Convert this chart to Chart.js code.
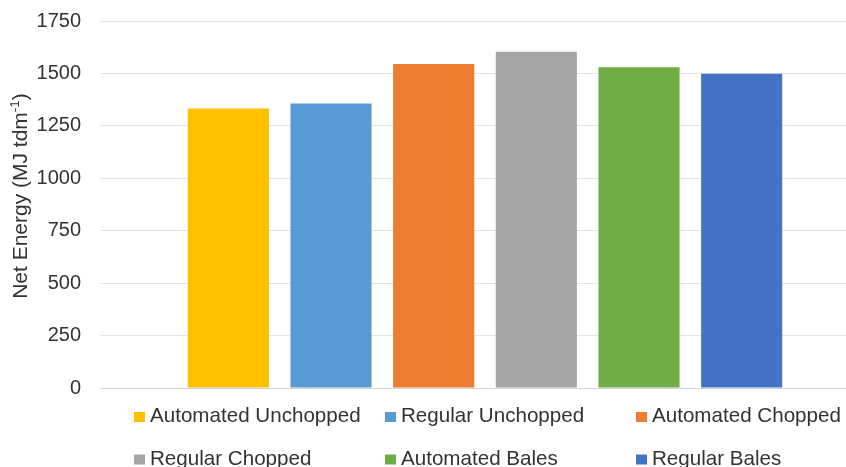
<!DOCTYPE html>
<html>
<head>
<meta charset="utf-8">
<script src="https://cdn.jsdelivr.net/npm/chart.js@4.4.1/dist/chart.umd.min.js"></script>
<style>
  html, body { margin: 0; padding: 0; overflow: hidden; background: #ffffff; }
  #wrap { position: relative; width: 870px; height: 467px; }
</style>
</head>
<body>
<div id="wrap"><canvas id="c"></canvas></div>
<script>
// Net energy per system (MJ per tonne dry matter)
const categories = ['Net Energy'];
const seriesNames = ['Automated Unchopped', 'Regular Unchopped', 'Automated Chopped', 'Regular Chopped', 'Automated Bales', 'Regular Bales'];
const seriesValues = [1333, 1357, 1545, 1603, 1530, 1498];
const seriesColors = ['#FFC000', '#5B9BD5', '#ED7D31', '#A5A5A5', '#70AD47', '#4472C4'];
const yTickValues = [0, 250, 500, 750, 1000, 1250, 1500, 1750];
const yTitleMain = 'Net Energy (MJ tdm';
const yTitleSup = '-1';
const yTitleEnd = ')';

const FONT = '"Liberation Sans", Arial, sans-serif';
const TEXT = '#333333';

// Legend laid out as a 3-column grid under the plot
const gridLegend = {
  id: 'gridLegend',
  afterDraw(chart, args, opts) {
    const ctx = chart.ctx;
    ctx.save();
    ctx.font = '20.6px ' + FONT;
    ctx.textBaseline = 'alphabetic';
    ctx.textAlign = 'left';
    chart.data.datasets.forEach((ds, i) => {
      const col = i % opts.columns;
      const row = Math.floor(i / opts.columns);
      const x = opts.x0 + col * opts.colWidth;
      const base = opts.base0 + row * opts.rowHeight;
      ctx.fillStyle = ds.backgroundColor;
      ctx.fillRect(x, base - 10, 11, 10);
      ctx.fillStyle = TEXT;
      ctx.fillText(ds.label, x + 16, base);
    });
    ctx.restore();
  }
};

// Rotated y-axis title with a superscript unit exponent
const axisTitle = {
  id: 'axisTitle',
  afterDraw(chart, args, opts) {
    const ctx = chart.ctx;
    ctx.save();
    const big = '21px ' + FONT;
    const small = '13.5px ' + FONT;
    ctx.font = big;
    const w1 = ctx.measureText(yTitleMain).width;
    const w3 = ctx.measureText(yTitleEnd).width;
    ctx.font = small;
    const w2 = ctx.measureText(yTitleSup).width;
    const total = w1 + w2 + w3;
    ctx.translate(opts.x, opts.cy);
    ctx.rotate(-Math.PI / 2);
    ctx.fillStyle = TEXT;
    ctx.textBaseline = 'alphabetic';
    ctx.textAlign = 'left';
    let x = -total / 2;
    ctx.font = big;
    ctx.fillText(yTitleMain, x, 0);
    x += w1;
    ctx.font = small;
    ctx.fillText(yTitleSup, x, -8);
    x += w2;
    ctx.font = big;
    ctx.fillText(yTitleEnd, x, 0);
    ctx.restore();
  }
};

new Chart(document.getElementById('c'), {
  type: 'bar',
  data: {
    labels: categories,
    datasets: seriesNames.map((name, i) => ({
      label: name,
      data: [seriesValues[i]],
      backgroundColor: seriesColors[i],
      barPercentage: 0.79,
      categoryPercentage: 0.8
    }))
  },
  options: {
    responsive: true,
    maintainAspectRatio: false,
    animation: false,
    layout: { padding: { top: 21, right: 0, bottom: 79, left: 0 } },
    plugins: {
      legend: { display: false },
      tooltip: { enabled: false },
      gridLegend: { columns: 3, x0: 134, colWidth: 251, base0: 422, rowHeight: 42.5 },
      axisTitle: { x: 27, cy: 196 }
    },
    scales: {
      x: { display: false },
      y: {
        min: 0,
        max: 1750,
        afterBuildTicks(scale) { scale.ticks = yTickValues.map(v => ({ value: v })); },
        afterFit(scale) {
          scale.width = 100;
          scale.paddingTop = 0;
          scale.paddingBottom = 0;
        },
        ticks: {
          padding: 19,
          color: TEXT,
          font: { family: FONT, size: 20 },
          callback: v => String(v)
        },
        grid: {
          drawTicks: false,
          lineWidth: 1,
          color: ctx => ctx.tick && ctx.tick.value === 0 ? '#d4d4d4' : '#e4e4e4'
        },
        border: { display: false }
      }
    }
  },
  plugins: [gridLegend, axisTitle]
});
</script>
</body>
</html>
